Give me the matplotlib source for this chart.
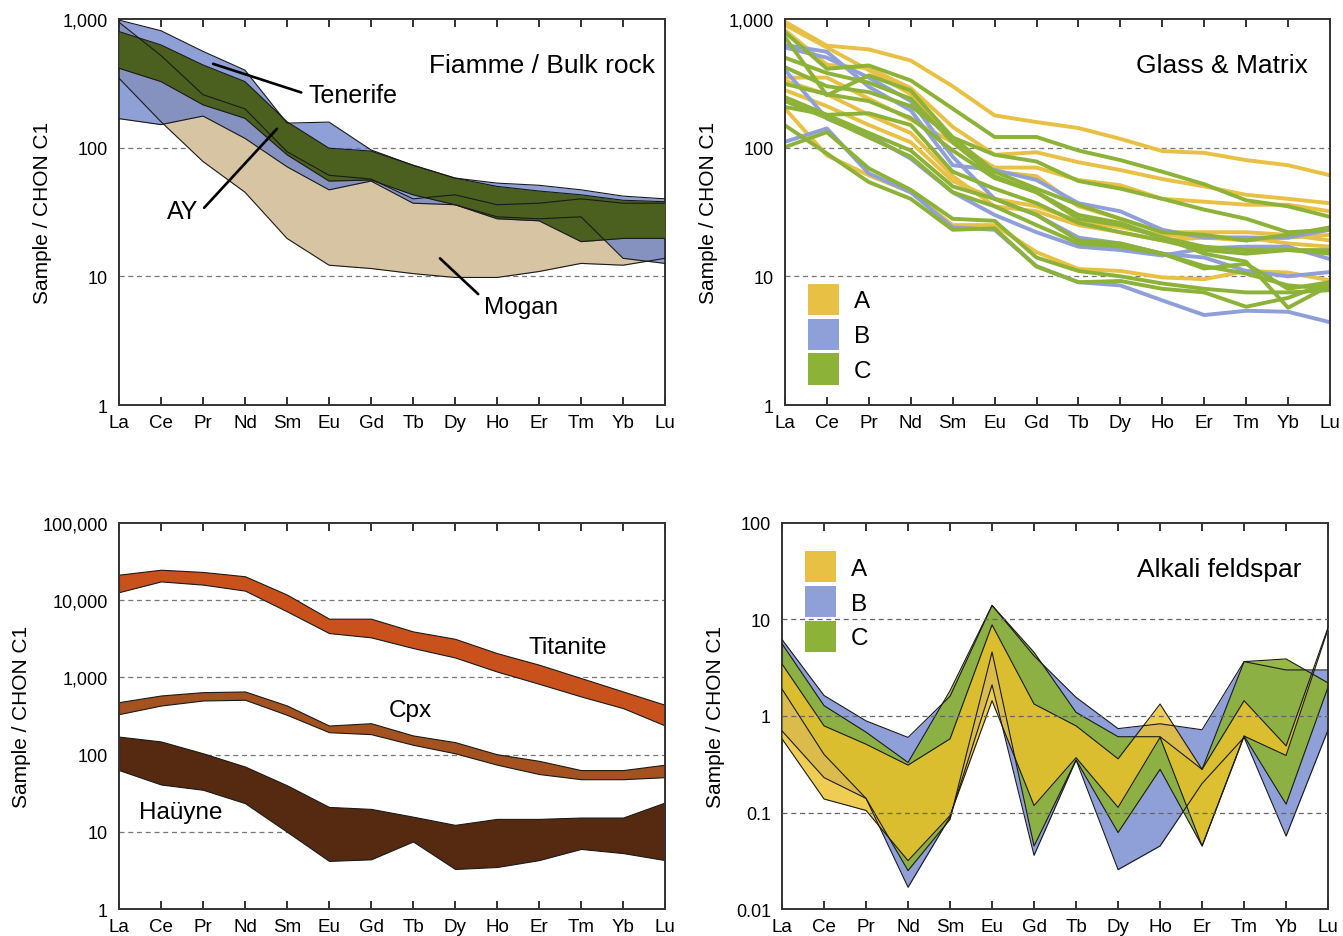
import numpy as np
import matplotlib
matplotlib.use('Agg')
import matplotlib.pyplot as plt
from matplotlib.patches import Patch
from matplotlib.ticker import NullLocator

plt.rcParams['font.family'] = ['Liberation Sans', 'DejaVu Sans']

ree = ['La', 'Ce', 'Pr', 'Nd', 'Sm', 'Eu', 'Gd', 'Tb', 'Dy', 'Ho', 'Er', 'Tm', 'Yb', 'Lu']
x = np.arange(len(ree))

# --- Fiamme / bulk rock envelopes (chondrite normalised) ---
tenerife_hi = [980, 810, 560, 400, 155, 158, 96, 73, 58, 53, 51, 47, 42, 40]
tenerife_lo = [168, 151, 176, 118, 71, 47, 55, 37, 36, 29, 28, 29, 13.8, 12.6]
ay_hi = [798, 628, 439, 326, 159, 99, 94, 73, 58, 50, 46, 43, 39, 38]
ay_lo = [414, 326, 215, 169, 88, 55, 56, 43, 36, 28, 27, 18.6, 19.7, 19.7]
mogan_hi = [943, 520, 258, 200, 93, 61, 57, 40, 43, 36, 37, 40, 37, 37]
mogan_lo = [346, 159, 78, 45, 19.7, 12.2, 11.5, 10.5, 9.8, 9.8, 10.9, 12.6, 12.2, 13.8]

# --- Glass & matrix, one line per analysis ---
glass_a = [
    [950, 620, 580, 475, 300, 178, 158, 142, 117, 94, 91, 80, 73, 61],
    [820, 440, 415, 290, 145, 88, 92, 77, 67, 57, 50, 43, 40, 37],
    [350, 350, 240, 165, 110, 70, 70, 56, 51, 40, 38, 36, 36, 32],
    [900, 600, 400, 260, 120, 65, 60, 35, 28, 22, 22, 22, 21, 19],
    [280, 210, 150, 110, 55, 40, 35, 27, 24, 21, 20, 19, 20, 21],
    [201, 87, 61, 45, 25, 25, 15.4, 11.4, 11, 9.8, 9.5, 11, 10.7, 9.3],
    [330, 260, 180, 130, 60, 35, 32, 25, 22, 19, 20, 20, 18, 17],
]
glass_b = [
    [627, 556, 297, 195, 73, 67, 56, 37, 32, 23, 20, 20, 20, 23],
    [401, 168, 125, 82, 45, 30, 22, 17, 16, 14.5, 16.5, 17, 17, 13.6],
    [111, 141, 63, 45, 24, 23, 12, 9, 8.5, 6.5, 5, 5.4, 5.3, 4.4],
    [600, 500, 350, 230, 85, 40, 30, 20, 18, 15, 14, 11, 10, 10.8],
]
glass_c = [
    [788, 410, 435, 333, 201, 121, 121, 95, 80, 65, 52, 39, 35, 29],
    [721, 255, 364, 278, 120, 88, 78, 55, 48, 40, 33, 28, 22, 23],
    [422, 300, 270, 210, 120, 65, 48, 36, 28, 22, 21, 19, 21, 24],
    [313, 260, 230, 170, 95, 58, 45, 30, 26, 20, 17, 16, 16, 16],
    [247, 180, 185, 150, 65, 48, 37, 26, 22, 19, 16, 15, 16, 15],
    [207, 180, 130, 95, 50, 40, 30, 19, 18, 15, 12, 10.5, 8.5, 8],
    [149, 90, 54, 40, 23, 23.6, 11.9, 9, 9.2, 8, 7.5, 5.8, 6.8, 9],
    [101, 132, 69, 47, 28, 27, 14, 11, 10, 8.8, 8, 7.5, 7.5, 7.8],
    [500, 380, 320, 240, 110, 60, 45, 28, 25, 20, 15, 13, 5.7, 8.5],
    [230, 170, 120, 85, 45, 35, 25, 18, 17, 15, 11.5, 12.5, 8, 9],
]

# --- Mineral envelopes ---
titanite_hi = [21400, 24800, 23200, 20400, 11800, 5760, 5760, 3940, 3160, 2060, 1460, 980, 657, 441]
titanite_lo = [12700, 17500, 15900, 13300, 7160, 3750, 3300, 2400, 1810, 1190, 826, 566, 400, 238]
cpx_hi = [478, 583, 644, 657, 432, 238, 255, 177, 145, 101, 83, 63, 63, 74]
cpx_lo = [334, 432, 502, 513, 327, 195, 184, 134, 104, 74, 56, 48, 48, 51]
hauyne_hi = [171, 148, 104, 70, 40, 21, 19.8, 15.7, 12.3, 14.7, 14.7, 15.3, 15.3, 24]
hauyne_lo = [63, 41, 35, 23.5, 10, 4.2, 4.4, 7.5, 3.3, 3.5, 4.3, 6.0, 5.3, 4.3]

# --- Alkali feldspar envelopes ---
afs_b_hi = [6.2, 1.63, 0.89, 0.60, 1.6, 14, 4.2, 1.56, 0.74, 0.83, 0.72, 3.66, 3.0, 3.0]
afs_b_lo = [0.7, 0.23, 0.14, 0.0168, 0.09, 2.1, 0.036, 0.35, 0.0256, 0.045, 0.2, 0.6, 0.057, 0.72]
afs_c_hi = [5.6, 1.28, 0.68, 0.33, 1.83, 14, 4.57, 1.09, 0.61, 0.61, 0.28, 3.66, 3.9, 2.2]
afs_c_lo = [1.9, 0.4, 0.14, 0.025, 0.085, 4.6, 0.045, 0.35, 0.062, 0.28, 0.045, 0.62, 0.122, 2.0]
afs_a_hi = [3.46, 0.79, 0.51, 0.31, 0.58, 8.8, 1.33, 0.79, 0.36, 1.33, 0.28, 1.44, 0.49, 8.3]
afs_a_lo = [0.58, 0.138, 0.105, 0.0317, 0.093, 1.44, 0.118, 0.37, 0.113, 0.6, 0.045, 0.62, 0.39, 8.0]

col_a = '#e8c044'
col_b = '#8f9fd8'
col_c = '#8db238'


def fmt(v):
    if v < 1:
        return ('%g' % v)
    return '{:,}'.format(int(v))


def setup(ax, ymin, ymax, grid_vals):
    ax.set_yscale('log')
    ax.set_xlim(0, len(ree) - 1)
    ax.set_ylim(ymin, ymax)
    ax.set_xticks(x)
    ax.set_xticklabels(ree, fontsize=13.5)
    decades = [10.0 ** k for k in range(int(round(np.log10(ymin))), int(round(np.log10(ymax))) + 1)]
    ax.set_yticks(decades)
    ax.set_yticklabels([fmt(d) for d in decades], fontsize=13)
    ax.yaxis.set_minor_locator(NullLocator())
    ax.tick_params(axis='x', direction='in', top=True, bottom=True, length=6, width=1.3,
                   pad=6.5, color='#222222')
    ax.tick_params(axis='y', length=0, pad=8)
    for s in ax.spines.values():
        s.set_linewidth(1.4)
        s.set_color('#333333')
    for g in grid_vals:
        ax.axhline(g, color='#777777', lw=0.9, ls=(0, (4, 3)), zorder=0.5)
    ax.set_ylabel('Sample / CHON C1', fontsize=15, labelpad=8)


fig = plt.figure(figsize=(13.43, 9.37), dpi=100)
ax1 = fig.add_axes([0.0886, 0.5667, 0.4066, 0.412])
ax2 = fig.add_axes([0.5845, 0.5667, 0.4058, 0.412])
ax3 = fig.add_axes([0.0886, 0.0288, 0.4066, 0.412])
ax4 = fig.add_axes([0.5823, 0.0288, 0.4066, 0.412])

# Panel 1: fiamme / bulk rock
setup(ax1, 1, 1000, [10, 100])
ax1.fill_between(x, mogan_lo, mogan_hi, color='#d6c4a2', lw=0, zorder=1)
ax1.fill_between(x, tenerife_lo, tenerife_hi, color='#6a80ca', alpha=0.75, lw=0, zorder=2)
ax1.fill_between(x, ay_lo, ay_hi, color='#4b5f1f', lw=0, zorder=3)
for series in [mogan_lo, mogan_hi, tenerife_lo, tenerife_hi, ay_lo, ay_hi]:
    ax1.plot(x, series, color='#1a1a1a', lw=0.8, zorder=4)
ax1.text(0.982, 0.881, 'Fiamme / Bulk rock', transform=ax1.transAxes, ha='right', va='center',
         fontsize=19)
arrow = dict(arrowstyle='-', lw=1.9, color='black', shrinkA=3, shrinkB=0)
ax1.annotate('Tenerife', xy=(2.24, 448), xytext=(4.5, 258), fontsize=18, va='center',
             arrowprops=dict(arrow, relpos=(0, 0.5)), zorder=6)
ax1.annotate('AY', xy=(3.76, 140), xytext=(1.52, 31.9), fontsize=18, va='center', ha='center',
             arrowprops=dict(arrow, relpos=(1, 0.4)), zorder=6)
ax1.annotate('Mogan', xy=(7.64, 13.8), xytext=(8.69, 5.75), fontsize=17.5, va='center',
             arrowprops=dict(arrow, relpos=(0, 0.85)), zorder=6)

# Panel 2: glass & matrix
setup(ax2, 1, 1000, [10, 100])
for series in glass_a:
    ax2.plot(x, series, color=col_a, lw=2.8, zorder=2)
for series in glass_b:
    ax2.plot(x, series, color=col_b, lw=2.8, zorder=2)
for series in glass_c:
    ax2.plot(x, series, color=col_c, lw=2.8, zorder=2)
ax2.text(0.96, 0.881, 'Glass & Matrix', transform=ax2.transAxes, ha='right', va='center',
         fontsize=19)
handles = [Patch(facecolor=c, edgecolor='none') for c in [col_a, col_b, col_c]]
leg_kw = dict(frameon=False, fontsize=17.5, handlelength=1.3, handleheight=1.6,
              labelspacing=0.15, handletextpad=0.6, borderaxespad=0.2)
ax2.legend(handles, ['A', 'B', 'C'], loc='lower left', bbox_to_anchor=(0.015, 0.015), **leg_kw)

# Panel 3: minerals
setup(ax3, 1, 100000, [10, 100, 1000, 10000])
for lo, hi, c in [(titanite_lo, titanite_hi, '#c9521c'),
                  (cpx_lo, cpx_hi, '#a4521f'),
                  (hauyne_lo, hauyne_hi, '#552a10')]:
    ax3.fill_between(x, lo, hi, facecolor=c, edgecolor='#1a1a1a', lw=0.8, zorder=2)
ax3.text(9.74, 2500, 'Titanite', fontsize=17.5, va='center')
ax3.text(6.42, 380, 'Cpx', fontsize=17.5, va='center')
ax3.text(0.47, 17.9, 'Haüyne', fontsize=17.5, va='center')

# Panel 4: alkali feldspar
setup(ax4, 0.01, 100, [])
ax4.fill_between(x, afs_b_lo, afs_b_hi, color=col_b, lw=0, zorder=1)
ax4.fill_between(x, afs_c_lo, afs_c_hi, color=col_c, alpha=0.92, lw=0, zorder=2)
ax4.fill_between(x, afs_a_lo, afs_a_hi, color='#ecc22c', alpha=0.82, lw=0, zorder=3)
for series in [afs_b_lo, afs_b_hi, afs_c_lo, afs_c_hi, afs_a_lo, afs_a_hi]:
    ax4.plot(x, series, color='#1a1a1a', lw=0.8, zorder=4)
for g in [0.1, 1, 10]:
    ax4.axhline(g, color='#666666', lw=0.9, ls=(0, (4, 3)), zorder=5)
ax4.text(0.951, 0.881, 'Alkali feldspar', transform=ax4.transAxes, ha='right', va='center',
         fontsize=19)
ax4.legend(handles, ['A', 'B', 'C'], loc='upper left', bbox_to_anchor=(0.015, 0.965), **leg_kw)

fig.savefig('out.png', dpi=100)
